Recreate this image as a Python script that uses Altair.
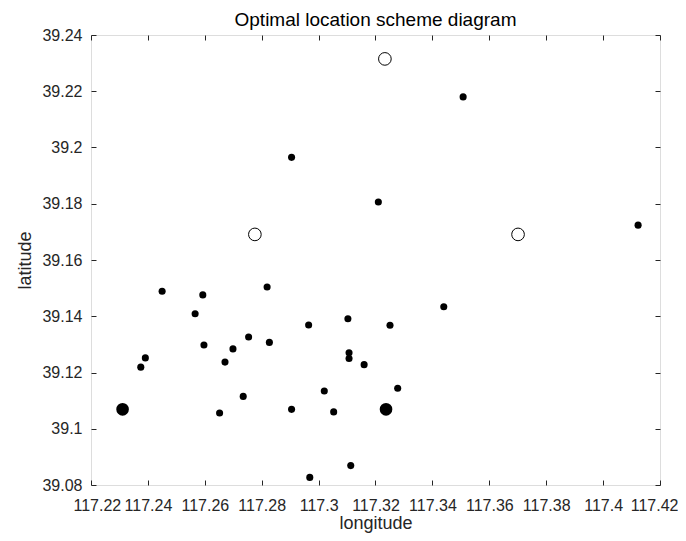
import altair as alt
import pandas as pd

# ---- data ----
demand_lon = [117.3508, 117.2905, 117.3210, 117.4123, 117.2450, 117.2593, 117.2566, 117.2819,
              117.3440, 117.3103, 117.2965, 117.3251, 117.2754, 117.2597, 117.2827, 117.2699,
              117.3107, 117.3107, 117.2671, 117.3160, 117.2391, 117.2375, 117.2735, 117.3020,
              117.3278, 117.2905, 117.3053, 117.2652, 117.3113, 117.2969]
demand_lat = [39.2180, 39.1965, 39.1806, 39.1724, 39.1489, 39.1476, 39.1409, 39.1504,
              39.1434, 39.1391, 39.1369, 39.1368, 39.1326, 39.1298, 39.1307, 39.1284,
              39.1270, 39.1250, 39.1237, 39.1228, 39.1252, 39.1219, 39.1115, 39.1134,
              39.1144, 39.1069, 39.1060, 39.1056, 39.0869, 39.0827]

selected_lon = [117.2311, 117.3237]
selected_lat = [39.1069, 39.1069]

candidate_lon = [117.3233, 117.2776, 117.3701]
candidate_lat = [39.2315, 39.1691, 39.1691]

x_ticks = [117.22, 117.24, 117.26, 117.28, 117.30, 117.32, 117.34, 117.36, 117.38, 117.40, 117.42]
y_ticks = [39.08, 39.10, 39.12, 39.14, 39.16, 39.18, 39.20, 39.22, 39.24]

chart_title = "Optimal location scheme diagram"
x_title = "longitude"
y_title = "latitude"

W, H = 569, 450
FONT = "Liberation Sans"
GRAY = "#262626"

demand = pd.DataFrame({"lon": demand_lon, "lat": demand_lat})
selected = pd.DataFrame({"lon": selected_lon, "lat": selected_lat})
candidate = pd.DataFrame({"lon": candidate_lon, "lat": candidate_lat})

xs = alt.Scale(domain=[x_ticks[0], x_ticks[-1]], nice=False, zero=False)
ys = alt.Scale(domain=[y_ticks[0], y_ticks[-1]], nice=False, zero=False)


def tick_axis(values, orient, offset):
    return alt.Axis(values=values, orient=orient, offset=offset, labels=False, domain=False,
                    grid=False, ticks=True, tickSize=5, tickColor=GRAY, tickWidth=1, title=None)


main = alt.Chart(demand).mark_circle(size=50, color="black", opacity=1).encode(
    x=alt.X("lon:Q", scale=xs, axis=alt.Axis(
        values=x_ticks, format="~g", orient="bottom", ticks=False, domain=False, grid=False,
        labelPadding=12, labelFontSize=16, labelColor=GRAY, labelFont=FONT,
        labelFlush=True, labelFlushOffset=18,
        title=x_title, titleFontSize=18, titleFont=FONT, titleColor=GRAY,
        titleFontWeight="normal", titleY=43, titleBaseline="alphabetic",
        labelOverlap=False)),
    y=alt.Y("lat:Q", scale=ys, axis=alt.Axis(
        values=y_ticks, format="~g", orient="left", ticks=False, domain=False, grid=False,
        labelPadding=9, labelFontSize=16, labelColor=GRAY, labelFont=FONT,
        title=y_title, titleFontSize=18, titleFont=FONT, titleColor=GRAY,
        titleFontWeight="normal", titleX=-61, titleBaseline="alphabetic",
        labelFlush=False, labelOverlap=False)),
)

big = alt.Chart(selected).mark_circle(size=160, color="black", opacity=1).encode(
    x=alt.X("lon:Q", scale=xs, axis=tick_axis(x_ticks, "top", -H)),
    y=alt.Y("lat:Q", scale=ys, axis=tick_axis(y_ticks, "right", -W)),
)

openc = alt.Chart(candidate).mark_point(shape="circle", size=160, color="black",
                                        filled=False, strokeWidth=1, opacity=1).encode(
    x=alt.X("lon:Q", scale=xs, axis=tick_axis(x_ticks, "bottom", -H)),
    y=alt.Y("lat:Q", scale=ys, axis=tick_axis(y_ticks, "left", -W)),
)

chart = alt.layer(main, big, openc).resolve_axis(
    x="independent", y="independent"
).properties(
    width=W, height=H,
    title=alt.TitleParams(chart_title, fontSize=19, font=FONT, fontWeight="normal",
                          color="black", anchor="middle", offset=-3),
    autosize=alt.AutoSizeParams(type="none"),
    padding={"left": 83, "top": 27, "right": 18, "bottom": 48},
).configure_view(stroke=GRAY, strokeWidth=1).configure(background="white")

chart.save("out.html", embed_options={"renderer": "svg", "actions": False})
